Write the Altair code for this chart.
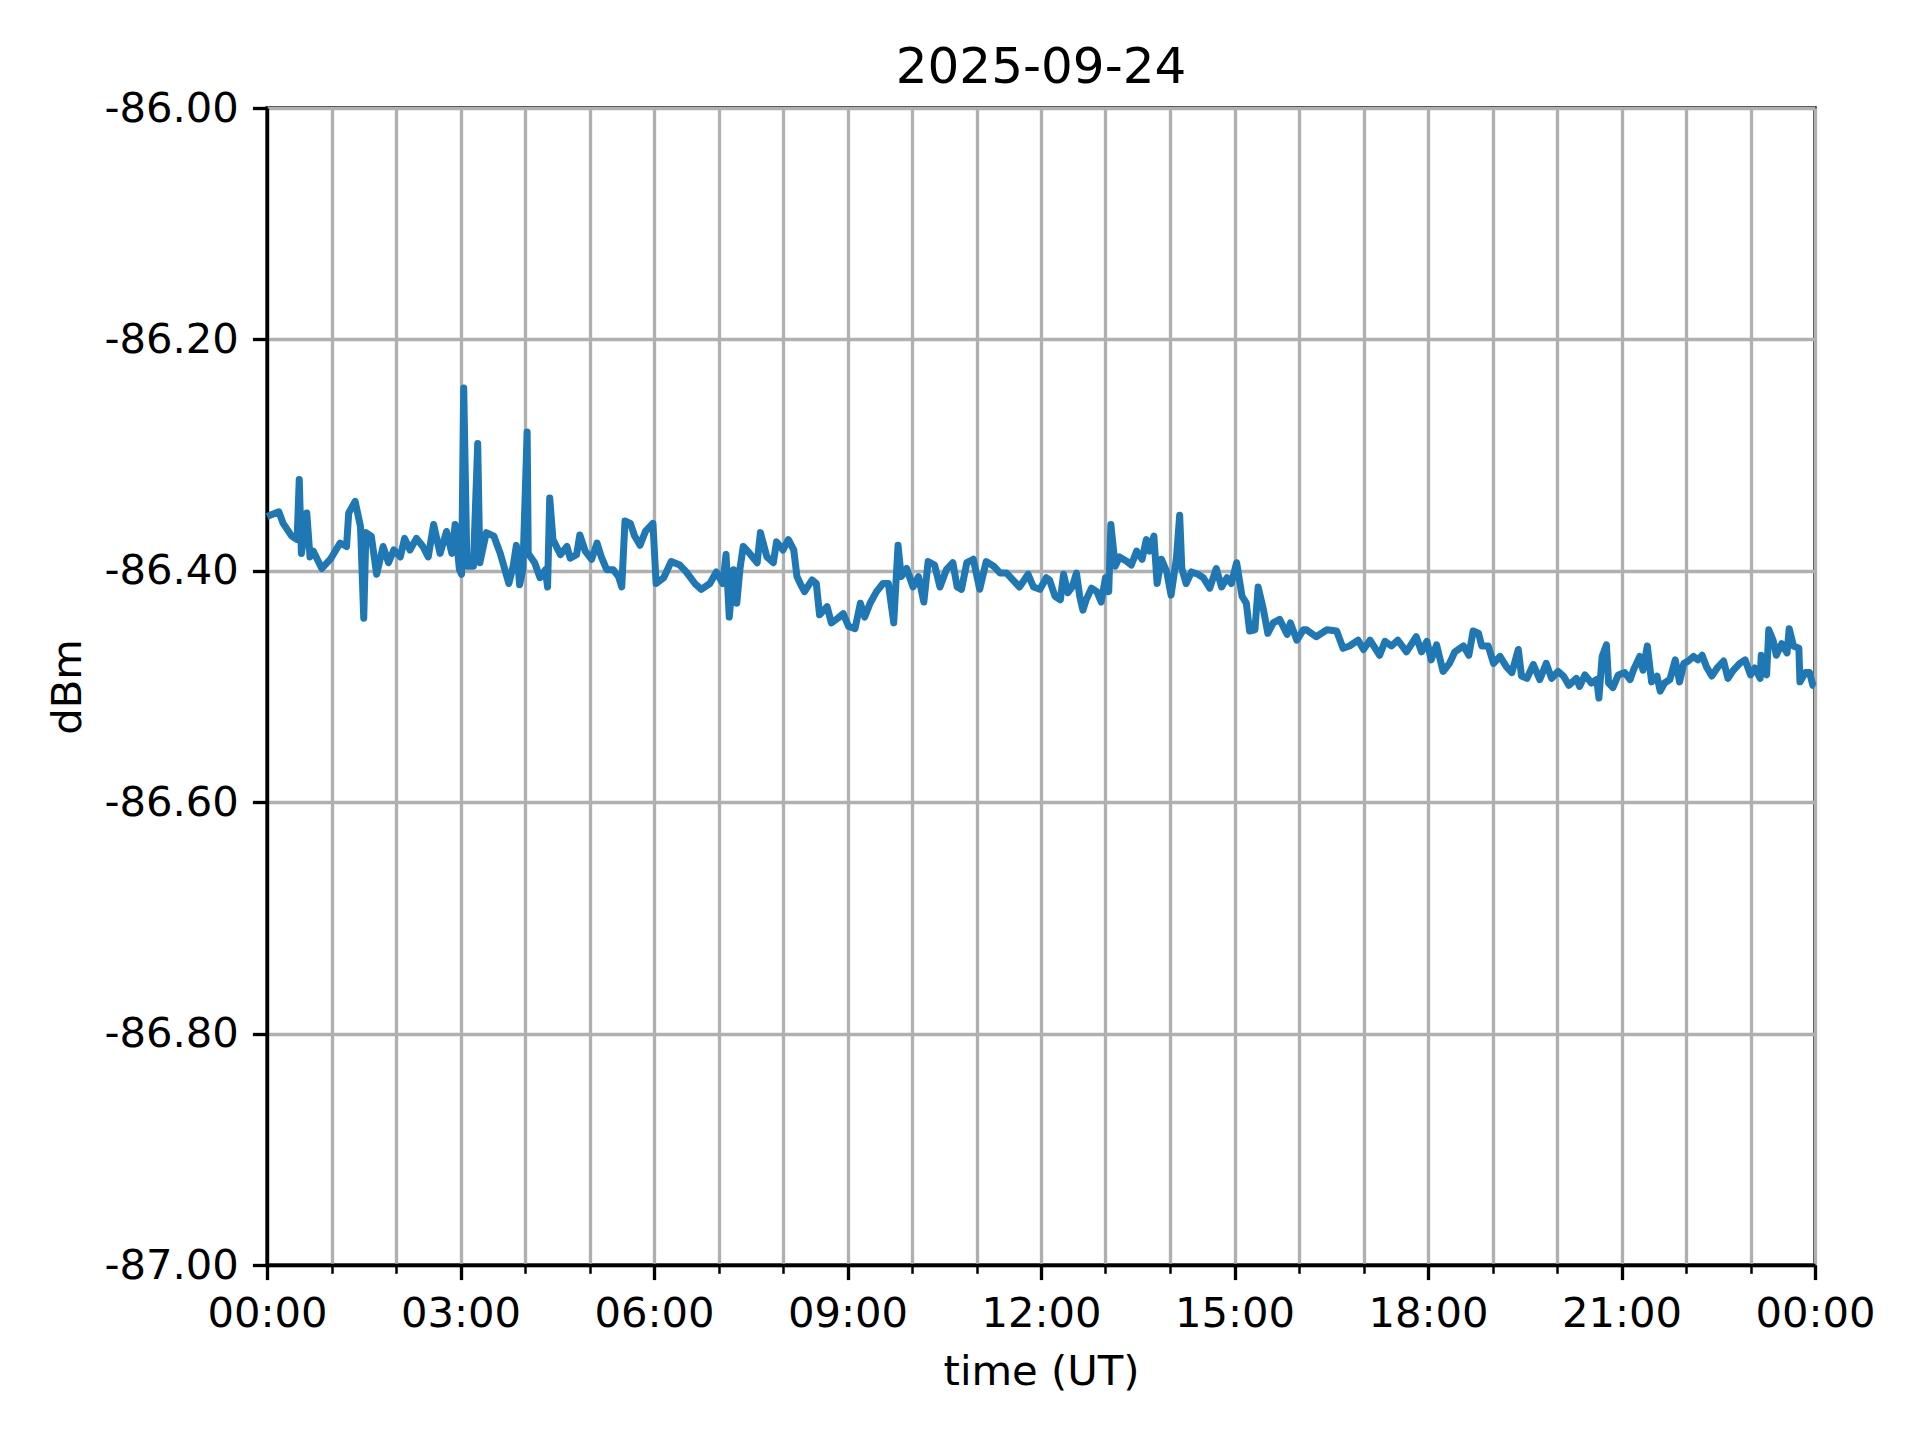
import altair as alt
import pandas as pd

TITLE = "2025-09-24"
X_TITLE = "time (UT)"
Y_TITLE = "dBm"

minutes = [
    0, 11, 15, 23, 28, 30, 32, 37, 40, 43, 51, 59, 68, 74, 76, 82, 87, 90, 92, 97,
    102, 108, 113, 118, 124, 128, 133, 139, 145, 150, 155, 161, 167, 172, 175, 179, 181, 183, 186, 192,
    196, 198, 204, 211, 217, 225, 229, 232, 235, 238,
    242, 243, 249, 254, 259, 261, 263, 266, 273, 279, 282, 288, 291, 296, 302, 307, 311, 316, 322, 327,
    330, 333, 338, 342, 347, 352, 359, 362, 369, 376, 384, 390, 398, 404, 412, 418, 424, 427, 430, 434,
    437, 440, 443, 449, 456, 459, 465, 471, 474, 480, 485,
    490, 493, 496, 500, 507, 511, 514, 521, 525, 531, 536, 541, 547, 552, 556, 561, 567, 573, 578, 583,
    587, 590, 595, 601, 606, 611, 615, 621, 626, 632, 638, 642, 646, 651, 657, 663, 669, 676, 682, 688,
    694, 700, 708, 713, 719, 725,
    728, 733, 738, 741, 745, 749, 753, 756, 759, 762, 767, 772, 776, 780, 783, 785, 789, 793, 800, 804,
    809, 814, 818, 821, 825, 828, 832, 837, 841, 846, 849, 851, 855, 860, 866, 871, 877, 883, 888, 893,
    897, 902, 907, 911, 914, 919, 922, 927, 931, 936, 942, 949, 952, 958, 964,
    967, 976, 986, 995, 1001, 1007, 1015, 1020, 1026, 1035, 1040, 1046, 1052, 1060, 1069, 1074, 1079, 1083, 1088, 1094,
    1100, 1105, 1113, 1118, 1122, 1127, 1130, 1136, 1141, 1147, 1153, 1158, 1164, 1167, 1172, 1178, 1184, 1190, 1195, 1201,
    1206, 1211,
    1218, 1221, 1226, 1232, 1237, 1239, 1242, 1246, 1248, 1252, 1257, 1263, 1268, 1271, 1277, 1280, 1284, 1288, 1293, 1296,
    1300, 1305, 1310, 1314, 1318, 1322, 1327, 1331, 1335, 1339, 1344, 1349, 1355, 1359, 1364, 1370, 1375, 1380, 1384, 1389,
    1390, 1395, 1397, 1401, 1404, 1409, 1414, 1416, 1420, 1425, 1426, 1431, 1435, 1438, 1440,
]

dbm = [
    -86.353, -86.349, -86.359, -86.370, -86.373, -86.321, -86.385, -86.350, -86.388, -86.383,
    -86.398, -86.390, -86.376, -86.379, -86.350, -86.340, -86.362, -86.441, -86.367, -86.370,
    -86.403, -86.379, -86.393, -86.382, -86.388, -86.372, -86.382, -86.372, -86.379, -86.388,
    -86.360, -86.385, -86.366, -86.385, -86.360, -86.399, -86.403, -86.242, -86.396, -86.396,
    -86.290, -86.393, -86.367, -86.370, -86.385, -86.411, -86.396, -86.378, -86.412, -86.399,
    -86.280, -86.385, -86.393, -86.406, -86.399, -86.414, -86.337, -86.373, -86.386, -86.379,
    -86.389, -86.386, -86.369, -86.383, -86.390, -86.376, -86.388, -86.399, -86.399, -86.405,
    -86.414, -86.357, -86.359, -86.370, -86.378, -86.366, -86.359, -86.411, -86.406, -86.392,
    -86.395, -86.401, -86.411, -86.416, -86.411, -86.401, -86.411, -86.386, -86.440, -86.399,
    -86.428, -86.398, -86.379, -86.385, -86.393, -86.367, -86.388, -86.393, -86.375, -86.382,
    -86.373,
    -86.382, -86.405, -86.411, -86.418, -86.408, -86.411, -86.438, -86.431, -86.445, -86.441,
    -86.437, -86.448, -86.450, -86.428, -86.440, -86.428, -86.418, -86.411, -86.411, -86.445,
    -86.378, -86.405, -86.398, -86.414, -86.405, -86.427, -86.392, -86.395, -86.414, -86.399,
    -86.393, -86.414, -86.416, -86.393, -86.390, -86.416, -86.392, -86.396, -86.402, -86.402,
    -86.408, -86.414, -86.403, -86.414, -86.416, -86.406,
    -86.408, -86.422, -86.425, -86.403, -86.419, -86.414, -86.402, -86.422, -86.434, -86.425,
    -86.415, -86.418, -86.427, -86.406, -86.418, -86.360, -86.396, -86.388, -86.392, -86.395,
    -86.383, -86.390, -86.373, -86.383, -86.370, -86.411, -86.390, -86.401, -86.421, -86.389,
    -86.352, -86.398, -86.411, -86.401, -86.403, -86.406, -86.415, -86.398, -86.414, -86.406,
    -86.411, -86.393, -86.422, -86.428, -86.452, -86.451, -86.414, -86.434, -86.454, -86.445,
    -86.442, -86.455, -86.445, -86.460, -86.451,
    -86.451, -86.457, -86.451, -86.452, -86.467, -86.465, -86.460, -86.468, -86.460, -86.473,
    -86.461, -86.465, -86.460, -86.470, -86.457, -86.470, -86.461, -86.477, -86.464, -86.487,
    -86.480, -86.470, -86.465, -86.473, -86.452, -86.454, -86.465, -86.465, -86.480, -86.474,
    -86.483, -86.488, -86.468, -86.491, -86.493, -86.481, -86.494, -86.480, -86.493, -86.487,
    -86.491, -86.499,
    -86.493, -86.500, -86.490, -86.497, -86.494, -86.510, -86.474, -86.464, -86.497, -86.501,
    -86.490, -86.488, -86.494, -86.486, -86.474, -86.486, -86.465, -86.496, -86.491, -86.504,
    -86.497, -86.494, -86.477, -86.496, -86.480, -86.478, -86.474, -86.477, -86.473, -86.483,
    -86.491, -86.484, -86.478, -86.493, -86.486, -86.480, -86.477, -86.490, -86.484, -86.493,
    -86.473, -86.490, -86.451, -86.460, -86.473, -86.463, -86.471, -86.450, -86.465, -86.467,
    -86.496, -86.488, -86.488, -86.499, -86.500,
]

x_tick_minutes = [0, 60, 120, 180, 240, 300, 360, 420, 480, 540, 600, 660, 720,
                  780, 840, 900, 960, 1020, 1080, 1140, 1200, 1260, 1320, 1380, 1440]
y_ticks = [-87.0, -86.8, -86.6, -86.4, -86.2, -86.0]

df = pd.DataFrame({"minute": minutes, "dbm": dbm})

FONT = "DejaVu Sans"
FS = 41.7
W, H = 1548, 1157
major = "datum.value % 180 === 0"

x_axis = alt.Axis(
    values=x_tick_minutes,
    labelExpr="datum.value % 180 === 0 ? ((floor(datum.value / 60) % 24) < 10 ? '0' : '') + (floor(datum.value / 60) % 24) + ':00' : ''",
    title=X_TITLE,
    grid=True, gridColor="#b0b0b0", gridWidth=3.33, gridOpacity=1,
    tickColor="black",
    tickWidth={"condition": {"test": major, "value": 3.33}, "value": 2.5},
    tickSize={"condition": {"test": major, "value": 14.6}, "value": 8.3},
    labelFont=FONT, labelFontSize=FS, labelColor="black", labelPadding=14,
    labelOverlap=False, labelFlush=False,
    domainColor="black", domainWidth=3.33,
    titleFont=FONT, titleFontSize=FS, titleFontWeight="normal", titleColor="black",
    titleX=W / 2, titleY=106, titleBaseline="middle", titleAlign="center",
)

y_axis = alt.Axis(
    values=y_ticks,
    labelExpr="replace(format(datum.value, '.2f'), '\u2212', '-')",
    title=Y_TITLE,
    grid=True, gridColor="#b0b0b0", gridWidth=3.33, gridOpacity=1,
    tickColor="black", tickWidth=3.33, tickSize=14.6,
    labelFont=FONT, labelFontSize=FS, labelColor="black", labelPadding=14,
    labelOverlap=False, labelFlush=False,
    domainColor="black", domainWidth=3.33,
    titleFont=FONT, titleFontSize=FS, titleFontWeight="normal", titleColor="black",
    titleX=-200, titleY=H / 2, titleAngle=270, titleBaseline="middle", titleAlign="center",
)

line = alt.Chart(df).mark_line(
    color="#1f77b4", strokeWidth=7, strokeJoin="round"
).encode(
    x=alt.X("minute:Q", scale=alt.Scale(domain=[0, 1440], nice=False, zero=False), axis=x_axis),
    y=alt.Y("dbm:Q", scale=alt.Scale(domain=[-87, -86], nice=False, zero=False), axis=y_axis),
)

title_mark = alt.Chart(pd.DataFrame({"t": [TITLE]})).mark_text(
    font=FONT, fontSize=50, color="black", align="center", baseline="alphabetic"
).encode(
    x=alt.value(W / 2), y=alt.value(-25), text="t:N"
)

chart = alt.layer(line, title_mark).properties(
    width=W, height=H,
    padding={"left": 259, "top": 100, "right": 97, "bottom": 167},
    autosize=alt.AutoSizeParams(type="none"),
).configure_view(stroke="black", strokeWidth=3.33)

chart.save("out.html", embed_options={"renderer": "svg", "actions": False})
